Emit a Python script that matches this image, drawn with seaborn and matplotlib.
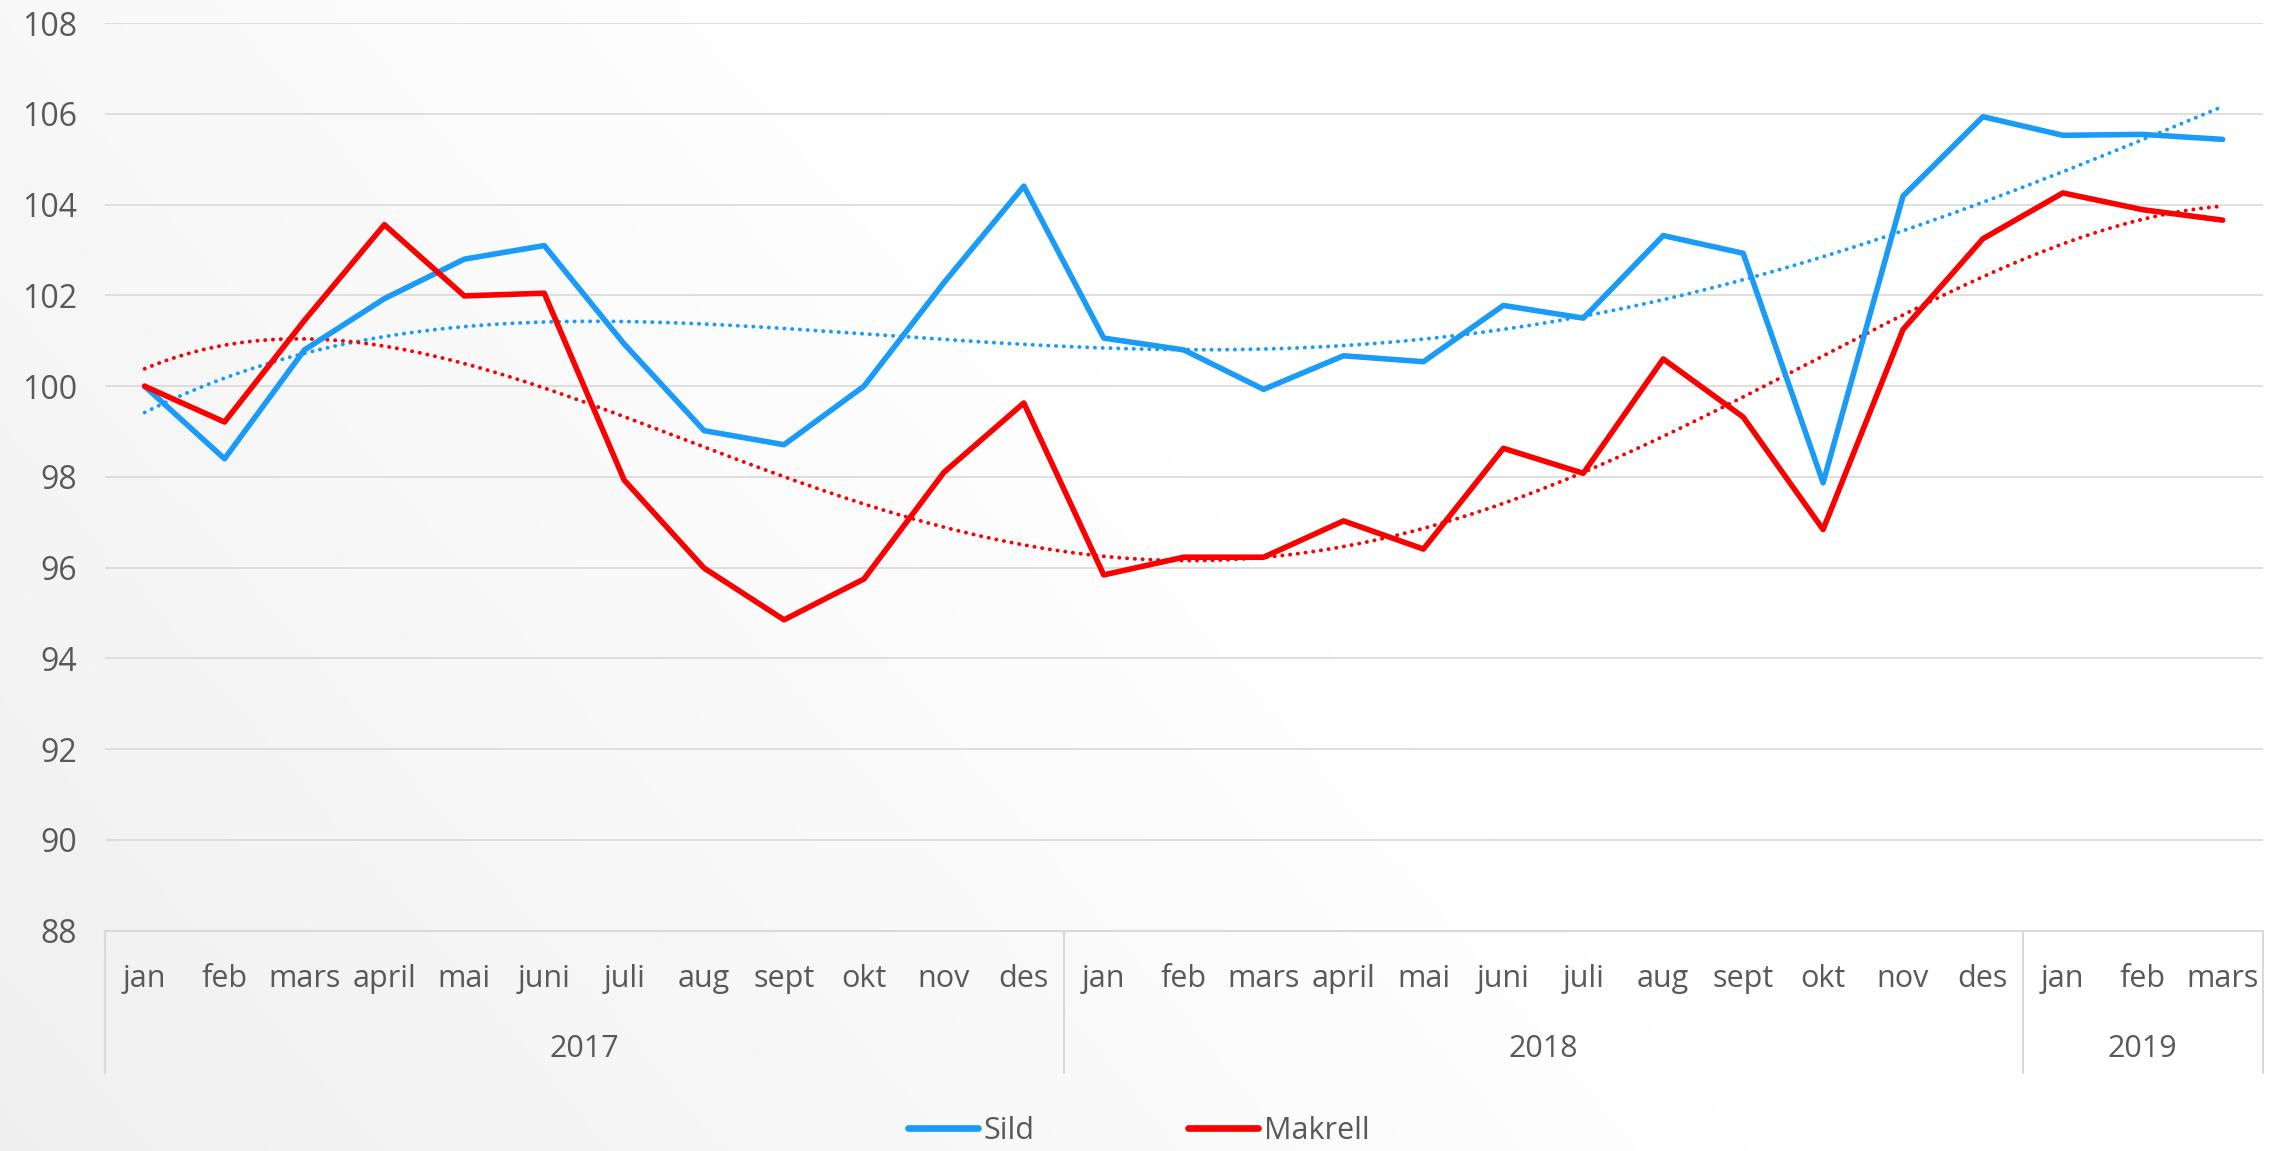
import numpy as np
import pandas as pd
import seaborn as sns
import matplotlib.pyplot as plt
import matplotlib.transforms as mtransforms
from matplotlib.lines import Line2D

months_17 = ["jan", "feb", "mars", "april", "mai", "juni", "juli", "aug", "sept", "okt", "nov", "des"]
months_18 = ["jan", "feb", "mars", "april", "mai", "juni", "juli", "aug", "sept", "okt", "nov", "des"]
months_19 = ["jan", "feb", "mars"]
years = ["2017", "2018", "2019"]

sild = [100.0, 98.4, 100.8, 101.93, 102.8, 103.1, 100.93, 99.02, 98.71, 100.0, 102.28, 104.41,
        101.06, 100.8, 99.93, 100.67, 100.54, 101.78, 101.5, 103.32, 102.93, 97.87, 104.19, 105.94,
        105.53, 105.55, 105.44]
makrell = [100.0, 99.21, 101.45, 103.56, 101.99, 102.05, 97.93, 95.99, 94.85, 95.75, 98.1, 99.63,
           95.84, 96.23, 96.23, 97.03, 96.41, 98.63, 98.08, 100.6, 99.32, 96.84, 101.25, 103.25,
           104.26, 103.89, 103.66]

month_labels = months_17 + months_18 + months_19
year_sizes = [len(months_17), len(months_18), len(months_19)]
idx = np.arange(len(month_labels))

df = pd.DataFrame({"idx": np.concatenate([idx, idx]),
                   "verdi": sild + makrell,
                   "serie": ["Sild"] * len(sild) + ["Makrell"] * len(makrell)})

blue = "#1a9bf7"
red = "#fb0000"
text_col = "#595959"
grid_col = "#d9d9d9"

sns.set_style("white")
plt.rcParams["font.family"] = ["Open Sans", "DejaVu Sans"]

fig = plt.figure(figsize=(22.8, 11.51), dpi=100)

# subtle background gradient: light grey bottom-left, white towards top-right
bg = fig.add_axes([0, 0, 1, 1], zorder=-10)
gx, gy = np.meshgrid(np.linspace(0, 1, 400), np.linspace(0, 1, 200))
t = np.clip(gx * 1.3 + gy * 0.55, 0, 1)
lev = 0.94 + 0.06 * t
bg.imshow(np.dstack([lev, lev, lev]), aspect="auto", extent=[0, 1, 0, 1], origin="lower")
bg.axis("off")

ax = fig.add_axes([0.0459, 0.1915, 0.9465, 0.7883])
ax.patch.set_alpha(0)

sns.lineplot(data=df, x="idx", y="verdi", hue="serie", palette={"Sild": blue, "Makrell": red},
             linewidth=4.0, ax=ax, legend=False, sort=False, zorder=3)

# polynomial trend lines (order 4)
for vals, col in [(sild, blue), (makrell, red)]:
    coef = np.polyfit(idx, vals, 4)
    xs = np.linspace(idx[0], idx[-1], 400)
    ax.plot(xs, np.polyval(coef, xs), color=col, linestyle=(0, (0.05, 1.95)), linewidth=2.8,
            dash_capstyle="round", zorder=2)

ax.set_xlim(-0.5, len(idx) - 0.5)
ax.set_ylim(88, 108)
ax.set_yticks(np.arange(88, 109, 2))
ax.yaxis.grid(True, color=grid_col, linewidth=1.2)
ax.set_axisbelow(True)
for s in ["top", "right", "left"]:
    ax.spines[s].set_visible(False)
ax.spines["bottom"].set_color(grid_col)
ax.spines["bottom"].set_linewidth(1.5)
ax.tick_params(axis="y", length=0, labelsize=23, colors=text_col, pad=20)
ax.set_xticks(idx)
ax.set_xticklabels(month_labels)
ax.tick_params(axis="x", length=0, labelsize=22, colors=text_col, pad=24)
ax.set_xlabel("")
ax.set_ylabel("")

# year level of the category axis
trans = mtransforms.blended_transform_factory(ax.transData, ax.transAxes)
bounds = [-0.5]
for n in year_sizes:
    bounds.append(bounds[-1] + n)
for b in bounds:
    ax.plot([b, b], [0, -0.157], transform=trans, color=grid_col, linewidth=1.5, clip_on=False)
for y, a, b in zip(years, bounds[:-1], bounds[1:]):
    ax.text((a + b) / 2, -0.1306, y, transform=trans, ha="center", va="center",
            fontsize=22, color=text_col)

handles = [Line2D([], [], color=blue, linewidth=4.8), Line2D([], [], color=red, linewidth=4.8)]
fig.legend(handles, ["Sild", "Makrell"], loc="center", bbox_to_anchor=(0.4994, 0.0177), ncol=2,
           frameon=False, fontsize=22, labelcolor=text_col, handlelength=2.3, handletextpad=0.2,
           columnspacing=5.0)

fig.savefig("out.png", dpi=100)
